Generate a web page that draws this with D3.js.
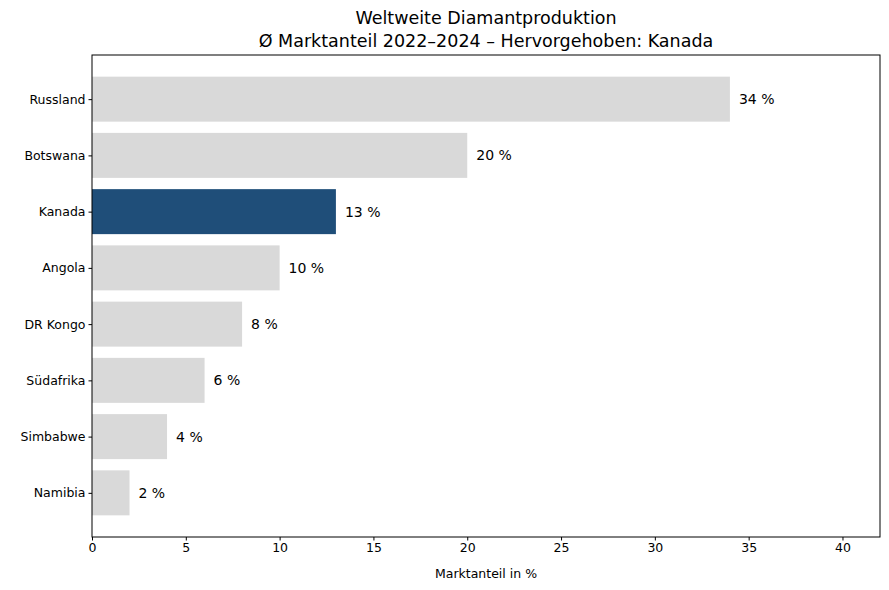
<!DOCTYPE html>
<html><head><meta charset="utf-8">
<script src="https://cdn.jsdelivr.net/npm/d3@7"></script>
<style>body{margin:0;background:#fff}text{font-family:"DejaVu Sans",sans-serif}</style>
</head><body><svg id="c" width="889" height="590"></svg>
<script>
const countries=["Russland","Botswana","Kanada","Angola","DR Kongo","Südafrika","Simbabwe","Namibia"];
const shares=[34,20,13,10,8,6,4,2];
const highlight="Kanada";
const xTicks=[0,5,10,15,20,25,30,35,40];

const svg=d3.select("#c");
const L=92,R=880,T=55,B=537;
const x=d3.scaleLinear().domain([0,42]).range([L,R]);
const y=d3.scaleLinear().domain([-0.785,7.785]).range([T,B]);
const bh=(y(1)-y(0))*0.8;

svg.selectAll("rect.bar").data(countries).enter().append("rect")
 .attr("x",x(0)).attr("y",(d,i)=>y(i)-bh/2).attr("height",bh)
 .attr("width",(d,i)=>x(shares[i])-x(0))
 .attr("fill",d=>d===highlight?"#1f4e79":"#d9d9d9");

svg.selectAll("text.lbl").data(countries).enter().append("text")
 .attr("x",(d,i)=>x(shares[i])+9).attr("y",(d,i)=>y(i)).attr("dy","0.35em")
 .attr("font-size",14).text((d,i)=>shares[i]+" %");

svg.append("g").attr("transform",`translate(0,${B})`)
 .call(d3.axisBottom(x).tickValues(xTicks).tickSize(3.5).tickSizeOuter(0))
 .call(g=>g.selectAll("text").attr("font-size",12.5).attr("fill","#000"));
svg.append("g").attr("transform",`translate(${L},0)`)
 .call(d3.axisLeft(y).tickValues(d3.range(countries.length)).tickFormat(i=>countries[i]).tickSize(3.5).tickSizeOuter(0))
 .call(g=>g.selectAll("text").attr("font-size",12.5).attr("fill","#000"));
svg.selectAll(".domain").remove();
svg.append("rect").attr("x",L).attr("y",T).attr("width",R-L).attr("height",B-T)
 .attr("fill","none").attr("stroke","#000").attr("stroke-width",1);

svg.append("text").attr("x",(L+R)/2).attr("y",578).attr("text-anchor","middle")
 .attr("font-size",12.5).text("Marktanteil in %");
svg.append("text").attr("x",(L+R)/2).attr("y",24).attr("text-anchor","middle")
 .attr("font-size",17.5).text("Weltweite Diamantproduktion");
svg.append("text").attr("x",(L+R)/2).attr("y",47).attr("text-anchor","middle")
 .attr("font-size",17.5).text("Ø Marktanteil 2022–2024 – Hervorgehoben: Kanada");
</script></body></html>
